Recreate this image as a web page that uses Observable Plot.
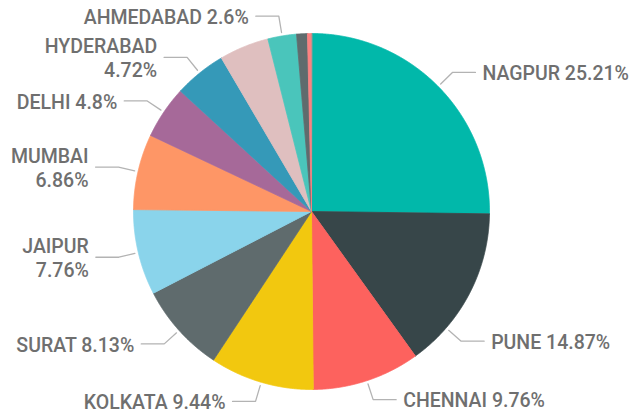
<!DOCTYPE html>
<html>
<head>
<meta charset="utf-8">
<script src="https://cdn.jsdelivr.net/npm/d3@7"></script>
<script src="https://cdn.jsdelivr.net/npm/@observablehq/plot@0.6"></script>
<style>
  html, body { margin: 0; padding: 0; background: #fff; }
</style>
</head>
<body>
<div id="chart"></div>
<script>
// ---- data, clockwise from 12 o'clock ----
const cities = ["NAGPUR", "PUNE", "CHENNAI", "KOLKATA", "SURAT", "JAIPUR", "MUMBAI",
                "DELHI", "HYDERABAD", "UNLABELLED 1", "AHMEDABAD", "UNLABELLED 2", "UNLABELLED 3"];
const shares = [25.21, 14.87, 9.76, 9.44, 8.13, 7.76, 6.86, 4.8, 4.72, 4.51, 2.6, 0.98, 0.36];
const palette = ["#01B8AA", "#374649", "#FD625E", "#F2C80F", "#5F6B6D", "#8AD4EB", "#FE9666",
                 "#A66999", "#3599B8", "#DFBFBF", "#4AC5BB", "#5F6B6D", "#FB8281"];

// ---- layout ----
const W = 633, H = 416;
const CX = 311, CY = 211, R = 178;
const FONT_SIZE = 19.5, FONT_WEIGHT = 500, FONT_FAMILY = "Roboto", LINE_H = 24;
const ELBOW = 20, ARM = 23, GAP = 7, START = 3.5;
const TEXT_COLOR = "#6f6f6f", LEADER_COLOR = "#b3b3b3";

const slices = cities.map((city, i) => ({city, share: shares[i], color: palette[i]}));
const arcs = d3.pie().sort(null).value(d => d.share)(slices);

// unit coordinates: 1 = pie radius
const toUnit = (a, rpx) => ({x: Math.sin(a) * rpx / R, y: -Math.cos(a) * rpx / R});

// slice polygons
const slicePts = [];
arcs.forEach((a, i) => {
  const s = slices[i];
  slicePts.push({city: s.city, color: s.color, ...toUnit(0, 0)});
  const n = Math.max(2, Math.ceil((a.endAngle - a.startAngle) / 0.004));
  for (let k = 0; k <= n; k++) {
    const ang = a.startAngle + (a.endAngle - a.startAngle) * k / n;
    slicePts.push({city: s.city, color: s.color, ...toUnit(ang, R)});
  }
});

// label layout: largest first, try mid / 3/4 / 1/4 of slice, then wrap; drop on collision
const ctx = document.createElement("canvas").getContext("2d");
ctx.font = `${FONT_WEIGHT} ${FONT_SIZE}px ${FONT_FAMILY}`;
const placed = [], labels = [], leaders = [];
const order = d3.range(arcs.length).sort((i, j) => d3.descending(shares[i], shares[j]));
for (const i of order) {
  const a = arcs[i], s = slices[i];
  const pct = `${s.share}%`;
  const candidates = [0.5, 0.75, 0.25].map(f => ({f, lines: [`${s.city} ${pct}`]}));
  candidates.push({f: 0.5, lines: [s.city, pct]});
  for (const c of candidates) {
    const ang = a.startAngle + c.f * (a.endAngle - a.startAngle);
    const right = Math.sin(ang) >= 0;
    const ex = CX + Math.sin(ang) * (R + ELBOW), ey = CY - Math.cos(ang) * (R + ELBOW);
    const hx = ex + (right ? ARM : -ARM);
    const tx = hx + (right ? GAP : -GAP);
    const tw = d3.max(c.lines, l => ctx.measureText(l).width);
    const x0 = right ? tx : tx - tw, x1 = right ? tx + tw : tx;
    if (x0 < 0 || x1 > W) continue;
    const h = c.lines.length * LINE_H;
    const box = {x0, x1, y0: ey - h / 2, y1: ey + h / 2};
    if (placed.some(b => b.x0 < box.x1 && box.x0 < b.x1 && b.y0 < box.y1 && box.y0 < b.y1)) continue;
    placed.push(box);
    const e = toUnit(ang, R + ELBOW);
    labels.push({city: s.city, text: c.lines.join("\n"), right, x: (hx - CX) / R, y: e.y});
    leaders.push({city: s.city, ...toUnit(ang, R + START)});
    leaders.push({city: s.city, ...e});
    leaders.push({city: s.city, x: (hx - CX) / R, y: e.y});
    break;
  }
}

const chart = Plot.plot({
  width: W,
  height: H,
  margin: 0,
  x: {domain: [-CX / R, (W - CX) / R], range: [0, W], axis: null},
  y: {domain: [-CY / R, (H - CY) / R], range: [0, H], axis: null},
  color: {type: "identity"},
  style: {fontFamily: FONT_FAMILY, background: "#fff"},
  marks: [
    Plot.line(slicePts, {x: "x", y: "y", z: "city", fill: "color", stroke: "color",
                         strokeWidth: 0.8, curve: "linear-closed"}),
    Plot.line(leaders, {x: "x", y: "y", z: "city", stroke: LEADER_COLOR, strokeWidth: 1.3}),
    Plot.text(labels.filter(d => d.right), {x: "x", y: "y", text: "text", dx: GAP,
              textAnchor: "start", fontSize: FONT_SIZE, fontWeight: FONT_WEIGHT, fill: TEXT_COLOR,
              lineHeight: LINE_H / FONT_SIZE}),
    Plot.text(labels.filter(d => !d.right), {x: "x", y: "y", text: "text", dx: -GAP,
              textAnchor: "end", fontSize: FONT_SIZE, fontWeight: FONT_WEIGHT, fill: TEXT_COLOR,
              lineHeight: LINE_H / FONT_SIZE})
  ]
});
document.getElementById("chart").appendChild(chart);
</script>
</body>
</html>
